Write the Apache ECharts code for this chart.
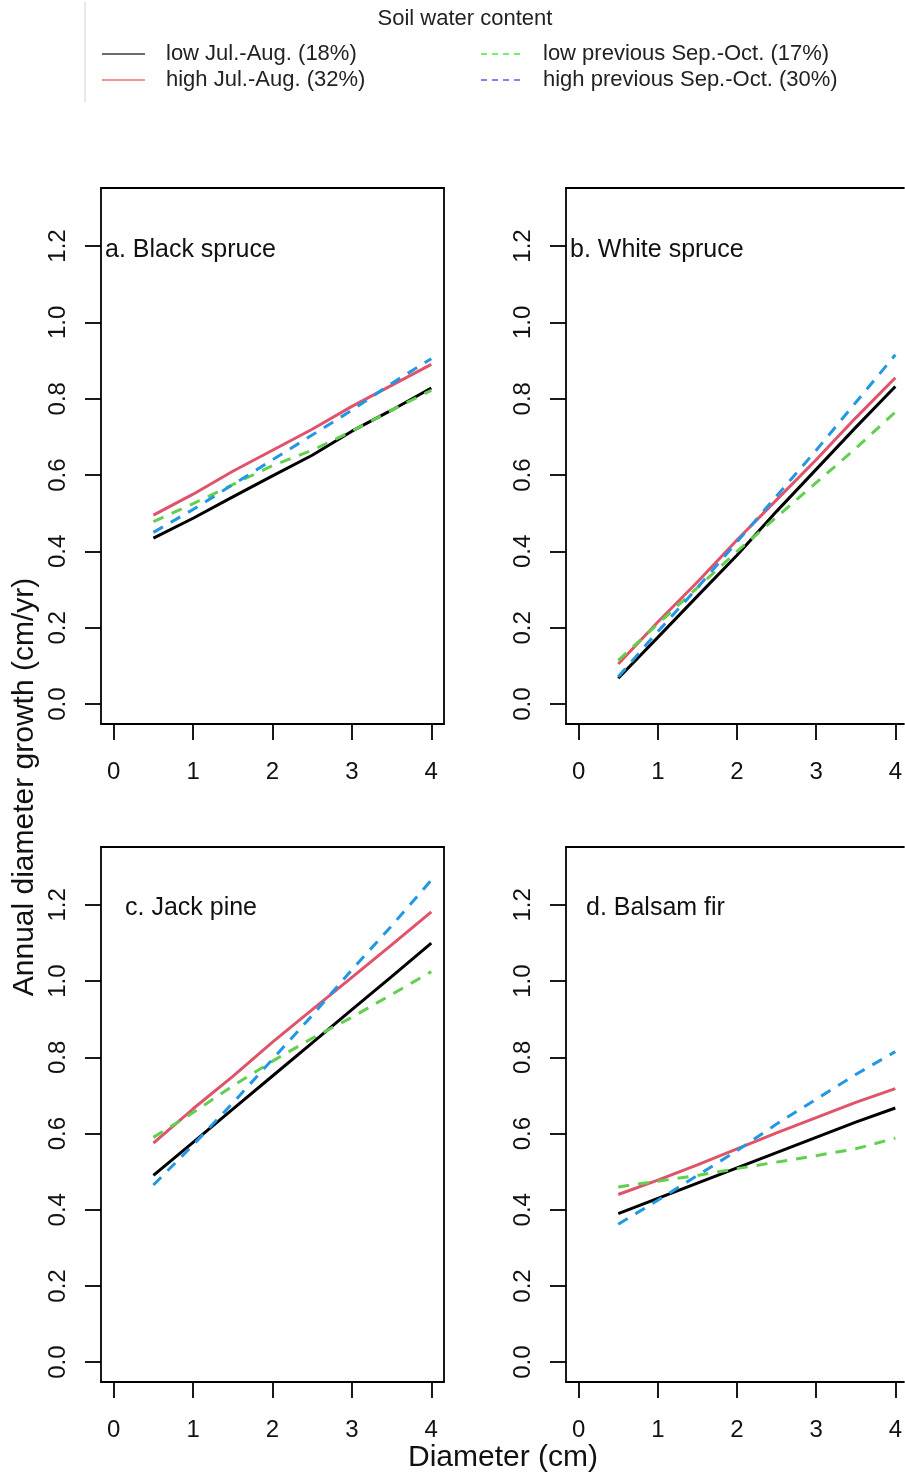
<!DOCTYPE html>
<html>
<head>
<meta charset="utf-8">
<script src="https://cdn.jsdelivr.net/npm/echarts@6/dist/echarts.min.js"></script>
<style>html,body{margin:0;padding:0;background:#fff;}#c{width:905px;height:1477px;}</style>
</head>
<body>
<div id="c"></div>
<script>
// ---- data ----
const diameter = [0.5, 1, 1.5, 2, 2.5, 3, 3.5, 4];
const xTicks = [0, 1, 2, 3, 4];
const yTicks = [0, 0.2, 0.4, 0.6, 0.8, 1.0, 1.2];
const panelTitles = ['a. Black spruce', 'b. White spruce', 'c. Jack pine', 'd. Balsam fir'];
const seriesNames = ['low Jul.-Aug. (18%)', 'high Jul.-Aug. (32%)', 'low previous Sep.-Oct. (17%)', 'high previous Sep.-Oct. (30%)'];
const legendTitle = 'Soil water content';
const yTitle = 'Annual diameter growth (cm/yr)';
const xTitle = 'Diameter (cm)';

// a. Black spruce
const aLowJulAug  = [0.435, 0.487, 0.543, 0.598, 0.652, 0.715, 0.770, 0.828];
const aHighJulAug = [0.495, 0.550, 0.610, 0.665, 0.720, 0.780, 0.835, 0.890];
const aLowSepOct  = [0.478, 0.525, 0.575, 0.625, 0.665, 0.715, 0.770, 0.822];
const aHighSepOct = [0.450, 0.510, 0.575, 0.640, 0.705, 0.770, 0.840, 0.905];
// b. White spruce
const bLowJulAug  = [0.068, 0.175, 0.283, 0.390, 0.505, 0.615, 0.725, 0.832];
const bHighJulAug = [0.105, 0.215, 0.320, 0.430, 0.535, 0.640, 0.750, 0.855];
const bLowSepOct  = [0.115, 0.210, 0.305, 0.400, 0.490, 0.580, 0.670, 0.765];
const bHighSepOct = [0.072, 0.190, 0.305, 0.425, 0.545, 0.665, 0.790, 0.915];
// c. Jack pine
const cLowJulAug  = [0.490, 0.577, 0.664, 0.751, 0.838, 0.925, 1.012, 1.100];
const cHighJulAug = [0.575, 0.665, 0.750, 0.840, 0.925, 1.010, 1.095, 1.182];
const cLowSepOct  = [0.590, 0.655, 0.725, 0.790, 0.850, 0.905, 0.965, 1.025];
const cHighSepOct = [0.465, 0.570, 0.680, 0.795, 0.910, 1.030, 1.145, 1.265];
// d. Balsam fir
const dLowJulAug  = [0.390, 0.430, 0.470, 0.510, 0.550, 0.590, 0.630, 0.667];
const dHighJulAug = [0.440, 0.478, 0.518, 0.560, 0.602, 0.642, 0.682, 0.718];
const dLowSepOct  = [0.460, 0.475, 0.490, 0.508, 0.525, 0.542, 0.560, 0.588];
const dHighSepOct = [0.362, 0.425, 0.490, 0.555, 0.625, 0.690, 0.755, 0.815];

const panelData = [
  [aLowJulAug, aHighJulAug, aLowSepOct, aHighSepOct],
  [bLowJulAug, bHighJulAug, bLowSepOct, bHighSepOct],
  [cLowJulAug, cHighJulAug, cLowSepOct, cHighSepOct],
  [dLowJulAug, dHighJulAug, dLowSepOct, dHighSepOct]
];

// ---- styles ----
const FONT = 'Liberation Sans, Arial, sans-serif';
const lineColors = ['#000000', '#DF536B', '#61D04F', '#2297E6'];
const lineTypes = ['solid', 'solid', [11, 9], [11, 9]];
const legendColors = ['#3a3a3a', '#ff6a6a', '#40f040', '#5a5aff'];
const AXW = 1.8;
// right-hand panels run past the page edge (clipped in the original): no right border
const grids = [
  {left: 101, top: 188, width: 343, height: 536, xMax: 4.16, rightBorder: true},
  {left: 566, top: 188, width: 339, height: 536, xMax: 4.109, rightBorder: false},
  {left: 101, top: 847, width: 343, height: 535, xMax: 4.16, rightBorder: true},
  {left: 566, top: 847, width: 339, height: 535, xMax: 4.109, rightBorder: false}
];
const titlePos = [[105, 238], [570, 238], [125, 896], [586, 896]];

const chart = echarts.init(document.getElementById('c'), null, {renderer: 'canvas'});

const series = [];
panelData.forEach((arrs, p) => {
  arrs.forEach((vals, k) => {
    series.push({
      name: seriesNames[k],
      type: 'line',
      xAxisIndex: p, yAxisIndex: p,
      data: diameter.map((d, i) => [d, vals[i]]),
      showSymbol: false, symbol: 'none',
      lineStyle: {color: lineColors[k], width: 3, type: lineTypes[k]},
      z: 2 + k
    });
  });
});

const graphic = [];
graphic.push({type: 'line', shape: {x1: 85, y1: 2, x2: 85, y2: 102}, style: {stroke: '#d0d0d0', lineWidth: 1}});
graphic.push({type: 'text', x: 465, y: 19, style: {text: legendTitle, fontSize: 22, fontFamily: FONT, fill: '#222', textAlign: 'center', textVerticalAlign: 'middle'}});
const legX = [[102, 145, 166], [102, 145, 166], [481, 523, 543], [481, 523, 543]];
const legY = [54, 80, 54, 80];
seriesNames.forEach((n, k) => {
  graphic.push({type: 'line', shape: {x1: legX[k][0], y1: legY[k], x2: legX[k][1], y2: legY[k]},
    style: {stroke: legendColors[k], lineWidth: 1.6, lineDash: k >= 2 ? [6, 5] : null}});
  graphic.push({type: 'text', x: legX[k][2], y: legY[k], style: {text: n, fontSize: 22, fontFamily: FONT, fill: '#222', textAlign: 'left', textVerticalAlign: 'middle'}});
});
graphic.push({type: 'text', x: 25, y: 787, rotation: Math.PI / 2, style: {text: yTitle, fontSize: 30, fontFamily: FONT, fill: '#111', textAlign: 'center', textVerticalAlign: 'middle'}});
graphic.push({type: 'text', x: 503, y: 1458, style: {text: xTitle, fontSize: 30, fontFamily: FONT, fill: '#111', textAlign: 'center', textVerticalAlign: 'middle'}});

const axisLineStyle = {show: true, onZero: false, lineStyle: {color: '#000', width: AXW}};

// main (bottom / left) axes, index 0..3 per panel
const xAxes = grids.map((g, i) => ({
  type: 'value', gridIndex: i, min: -0.16, max: g.xMax, position: 'bottom',
  axisLine: axisLineStyle,
  splitLine: {show: false},
  axisTick: {show: true, inside: false, length: 16, customValues: xTicks, lineStyle: {color: '#000', width: AXW}},
  axisLabel: {show: true, customValues: xTicks, fontSize: 24, margin: 36, color: '#111', fontFamily: FONT,
    formatter: v => String(Math.round(v))}
}));
const yAxes = grids.map((g, i) => ({
  type: 'value', gridIndex: i, min: -0.052, max: 1.352, position: 'left',
  axisLine: axisLineStyle,
  splitLine: {show: false},
  axisTick: {show: true, inside: false, length: 16, customValues: yTicks, lineStyle: {color: '#000', width: AXW}},
  axisLabel: {show: true, customValues: yTicks, fontSize: 24, margin: 31, rotate: 90, color: '#111', fontFamily: FONT,
    formatter: v => v.toFixed(1)}
}));
// frame: top edge for every panel, right edge only where visible
grids.forEach((g, i) => {
  xAxes.push({type: 'value', gridIndex: i, min: -0.16, max: g.xMax, position: 'top',
    axisLine: axisLineStyle, axisTick: {show: false}, axisLabel: {show: false}, splitLine: {show: false}});
  if (g.rightBorder) {
    yAxes.push({type: 'value', gridIndex: i, min: -0.052, max: 1.352, position: 'right',
      axisLine: axisLineStyle, axisTick: {show: false}, axisLabel: {show: false}, splitLine: {show: false}});
  }
});

const option = {
  animation: false,
  backgroundColor: '#fff',
  title: panelTitles.map((t, i) => ({
    text: t, left: titlePos[i][0], top: titlePos[i][1], padding: 0,
    textStyle: {fontSize: 25, fontWeight: 'normal', fontFamily: FONT, color: '#111'}
  })),
  grid: grids.map(g => ({show: false, containLabel: false, left: g.left, top: g.top, width: g.width, height: g.height})),
  xAxis: xAxes,
  yAxis: yAxes,
  series: series,
  graphic: graphic
};
chart.setOption(option);
</script>
</body>
</html>
